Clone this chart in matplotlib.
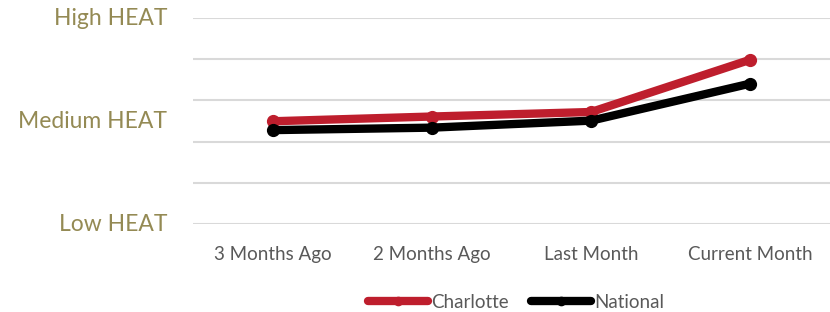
import matplotlib.pyplot as plt

months = ["3 Months Ago", "2 Months Ago", "Last Month", "Current Month"]
charlotte = [49.9, 52.2, 54.4, 79.8]
national = [45.6, 46.8, 50.2, 68.2]
heat_levels = [0, 50, 100]
heat_labels = ["Low HEAT", "Medium HEAT", "High HEAT"]

plt.rcParams['font.family'] = ['Lato', 'DejaVu Sans']

fig = plt.figure(figsize=(8.3, 3.12), dpi=100)
ax = fig.add_axes([0.2325, 0.282, 0.7675, 0.66])

x = range(len(months))
ax.plot(x, charlotte, color="#BE1E2D", lw=6, marker="o", ms=8.5, label="Charlotte", solid_capstyle="round")
ax.plot(x, national, color="black", lw=6, marker="o", ms=8.5, label="National", solid_capstyle="round")

ax.set_xlim(-0.5, 3.5)
ax.set_ylim(0, 100)
ax.set_yticks(range(0, 101, 20))
ax.set_yticklabels([])
ax.yaxis.grid(True, color="#d9d9d9", lw=1.5)
ax.set_axisbelow(True)
ax.tick_params(axis="y", length=0)
for lvl, lab in zip(heat_levels, heat_labels):
    ax.text(-0.66, lvl, lab, ha="right", va="center", fontsize=16.5, color="#948A54",
            transform=ax.transData, clip_on=False)

ax.set_xticks(list(x))
ax.set_xticklabels(months, fontsize=13.5, color="#595959")
ax.tick_params(axis="x", length=0, pad=16)
for s in ax.spines.values():
    s.set_visible(False)

fig.legend(loc="lower center", bbox_to_anchor=(0.622, -0.05), ncol=2, frameon=False,
           fontsize=13.5, handlelength=3.2, handletextpad=0.15, columnspacing=1.2,
           labelcolor="#595959", markerscale=0.7)

fig.savefig("out.png", dpi=100)
